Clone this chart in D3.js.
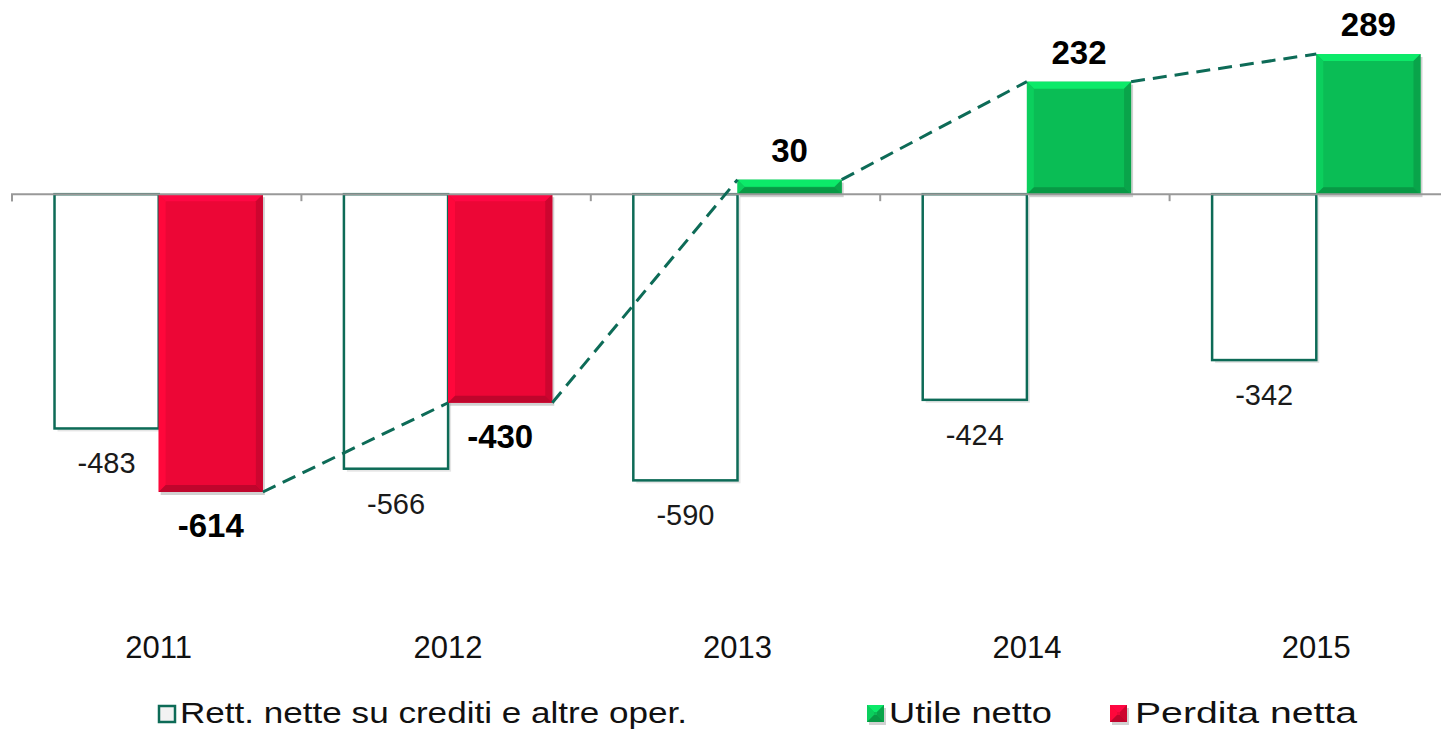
<!DOCTYPE html>
<html>
<head>
<meta charset="utf-8">
<script src="https://cdn.jsdelivr.net/npm/d3@7"></script>
<style>
  body { margin: 0; background: #fff; }
  svg { display: block; font-family: "Liberation Sans", Arial, sans-serif; }
</style>
</head>
<body>
<script>
// data
var years = ["2011", "2012", "2013", "2014", "2015"];
var rettifiche = [-483, -566, -590, -424, -342];
var risultato = [-614, -430, 30, 232, 289];
var legendLabels = ["Rett. nette su crediti e altre oper.", "Utile netto", "Perdita netta"];

var W = 1441, H = 729;
var svg = d3.select("body").append("svg").attr("width", W).attr("height", H);

var x = d3.scaleBand().domain(years).range([12, 1459]).paddingInner(0.28).paddingOuter(0.14);
var inner = d3.scaleBand().domain(["r", "n"]).range([0, x.bandwidth()]);
var y = d3.scaleLinear().domain([-614, 289]).range([492, 54]);
var dx = 2;

var teal = "#0d6b57", red = "#ec0636", green = "#0abd55";
var bev = 7;

// bevel helper: draws a rect with light/dark edges
function bevelBar(g, x0, y0, w, h, base) {
  var c = d3.color(base);
  g.append("rect").attr("x", x0 + 2).attr("y", y0 + 3).attr("width", w).attr("height", h)
      .attr("fill", "rgba(0,0,0,0.18)");
  g.append("rect").attr("x", x0).attr("y", y0).attr("width", w).attr("height", h).attr("fill", base);
  var b = Math.min(bev, h / 2);
  var pts = function(a) { return a.map(function(p) { return p.join(","); }).join(" "); };
  g.append("polygon").attr("points", pts([[x0, y0], [x0 + w, y0], [x0 + w - b, y0 + b], [x0 + b, y0 + b]]))
      .attr("fill", c.brighter(0.6));
  g.append("polygon").attr("points", pts([[x0, y0], [x0 + b, y0 + b], [x0 + b, y0 + h - b], [x0, y0 + h]]))
      .attr("fill", c.brighter(0.25));
  g.append("polygon").attr("points", pts([[x0 + w, y0], [x0 + w, y0 + h], [x0 + w - b, y0 + h - b], [x0 + w - b, y0 + b]]))
      .attr("fill", c.darker(0.4));
  g.append("polygon").attr("points", pts([[x0, y0 + h], [x0 + w, y0 + h], [x0 + w - b, y0 + h - b], [x0 + b, y0 + h - b]]))
      .attr("fill", c.darker(0.6));
}

// rettifiche bars (white with teal border)
var gR = svg.append("g");
years.forEach(function(yr, i) {
  var x0 = x(yr) + inner("r") + dx, w = inner.bandwidth();
  var y0 = y(0), h = y(rettifiche[i]) - y(0);
  gR.append("rect").attr("x", x0 + 3).attr("y", y0 + 3).attr("width", w).attr("height", h)
      .attr("fill", "rgba(0,0,0,0.10)");
  gR.append("rect").attr("x", x0).attr("y", y0).attr("width", w).attr("height", h)
      .attr("fill", "#fff").attr("stroke", teal).attr("stroke-width", 2.5);
  gR.append("text").attr("x", x0 + w / 2).attr("y", y(rettifiche[i]) + 45)
      .attr("text-anchor", "middle").attr("font-size", 29).attr("fill", "#1a1a1a")
      .text(rettifiche[i]);
});

// net result bars
var gN = svg.append("g");
years.forEach(function(yr, i) {
  var v = risultato[i], x0 = x(yr) + inner("n") + dx, w = inner.bandwidth();
  var y0 = y(Math.max(0, v)), h = Math.abs(y(v) - y(0));
  bevelBar(gN, x0, y0, w, h, v < 0 ? red : green);
  gN.append("text").attr("x", x0 + w / 2)
      .attr("y", v < 0 ? y(v) + 45 : y(v) - 18)
      .attr("text-anchor", "middle").attr("font-size", 33).attr("font-weight", "bold")
      .attr("fill", "#000").text(v);
});

// axis at zero
var axis = svg.append("g").attr("transform", "translate(0," + y(0) + ")")
    .call(d3.axisBottom(x).tickSize(7).tickFormat(""));
axis.select(".domain").attr("stroke", "#999").attr("stroke-width", 2)
    .attr("d", "M12,7V0H1459V7");
axis.selectAll(".tick line").attr("stroke", "#999").attr("stroke-width", 2)
    .attr("transform", function() { return "translate(" + (-x.step() / 2) + ",0)"; });

// series lines between net bars
var pts = [];
years.forEach(function(yr, i) {
  var x0 = x(yr) + inner("n") + dx, w = inner.bandwidth(), yv = y(risultato[i]);
  if (i > 0) pts.push([x0, yv]);
  if (i < years.length - 1) pts.push([x0 + w, yv]);
});
for (var k = 0; k < pts.length; k += 2) {
  svg.append("line").attr("x1", pts[k][0]).attr("y1", pts[k][1])
      .attr("x2", pts[k + 1][0]).attr("y2", pts[k + 1][1])
      .attr("stroke", teal).attr("stroke-width", 3).attr("stroke-dasharray", "14,8");
}

// year labels
svg.selectAll(".yr").data(years).enter().append("text")
    .attr("x", function(d) { return x(d) + x.bandwidth() / 2 + dx; }).attr("y", 658)
    .attr("text-anchor", "middle").attr("font-size", 31).attr("fill", "#111")
    .text(function(d) { return d; });

// legend
var legX = [158, 867, 1110];
var legW = [507, 163, 222];
var legFill = ["#fff", green, red];
legendLabels.forEach(function(l, i) {
  var g = svg.append("g").attr("transform", "translate(" + legX[i] + ",705)");
  if (i === 0) {
    g.append("rect").attr("x", 1).attr("y", 1).attr("width", 16).attr("height", 16)
        .attr("fill", "#f2f2f2").attr("stroke", teal).attr("stroke-width", 2.5);
  } else {
    bevelBar(g, 0, 0, 17, 17, legFill[i]);
  }
  g.append("text").attr("x", i === 2 ? 25 : 22).attr("y", 18).attr("font-size", 30).attr("fill", "#111")
      .attr("textLength", legW[i]).attr("lengthAdjust", "spacingAndGlyphs").text(l);
});
</script>
</body>
</html>
